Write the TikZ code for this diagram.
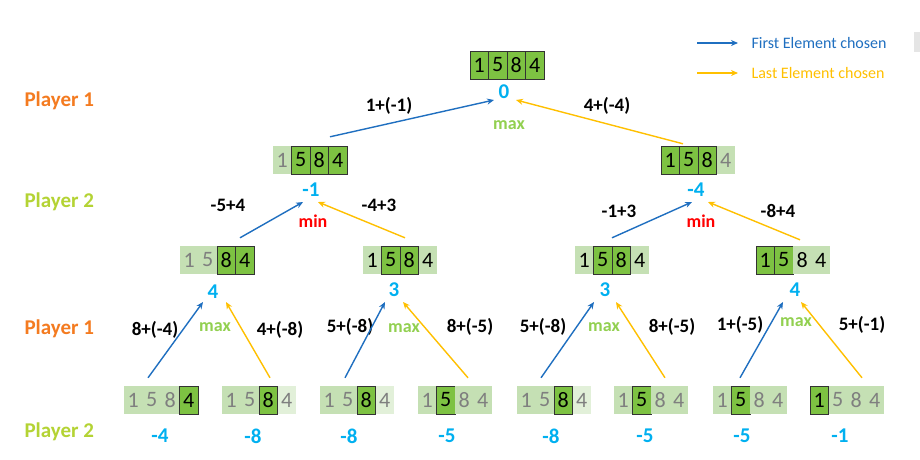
\documentclass[tikz,border=0pt]{standalone}
\usepackage{fontspec}
\setmainfont{Carlito}
\usetikzlibrary{arrows.meta}
\definecolor{dkg}{HTML}{7DC242}
\definecolor{ltg}{HTML}{C5E0B4}
\definecolor{xlg}{HTML}{E2F0D9}
\definecolor{gtx}{HTML}{7F7F7F}
\definecolor{blu}{HTML}{1F6FC0}
\definecolor{yel}{HTML}{FFC000}
\definecolor{cyn}{HTML}{00B0F0}
\definecolor{grn}{HTML}{92D050}
\definecolor{org}{HTML}{F47B20}
\definecolor{lim}{HTML}{B4D334}
\tikzset{
 cell/.style={inner sep=0, minimum width=18.5pt, minimum height=28pt, font=\fontsize{22}{24}\selectfont},
 cD/.style={cell, fill=dkg, draw=black!80, line width=0.8pt},
 cL/.style={cell, fill=ltg},
 cG/.style={cell, fill=ltg, text=gtx},
 cW/.style={cell, fill=xlg, text=gtx},
 val/.style={font=\bfseries\fontsize{21}{24}\selectfont, text=cyn},
 mx/.style={font=\bfseries\fontsize{18}{22}\selectfont, text=grn},
 mn/.style={font=\bfseries\fontsize{18}{22}\selectfont, text=red},
 elab/.style={font=\bfseries\fontsize{19}{22}\selectfont},
 play/.style={font=\bfseries\fontsize{21}{24}\selectfont, anchor=west},
 lgd/.style={font=\fontsize{16}{19}\selectfont, anchor=west},
 arB/.style={draw=blu, line width=1.4pt, -{Stealth[length=7pt,width=6pt]}},
 arY/.style={draw=yel, line width=1.4pt, -{Stealth[length=7pt,width=6pt]}},
}
\newcommand\cellarray[4]{%
 \node[inner sep=0, minimum width=74pt, minimum height=28pt] (#1) at ({#2+37},{#3+14}) {};
 \foreach \s/\d [count=\i from 0] in {#4}{
  \node[\s] (#1-\i) at ({#2+\i*18.5+9.25},{#3+14}) {\d};
 }
}
\begin{document}
\begin{tikzpicture}[x=1pt,y=-1pt]
\fill[white] (0,0) rectangle (920,459);
\useasboundingbox (0,0) rectangle (920,459);
\fill[black!10] (914,32) rectangle (920,52);
% player labels
\node[play, text=org] (p1a) at (21,101) {Player 1};
\node[play, text=lim] (p2a) at (21,202) {Player 2};
\node[play, text=org] (p1b) at (21,329) {Player 1};
\node[play, text=lim] (p2b) at (21,432) {Player 2};
% legend
\node[lgd, text=blu] (lg1) at (748,43) {First Element chosen};
\node[lgd, text=yel] (lg2) at (748,73) {Last Element chosen};
\coordinate (lg1s) at (697,43);
\coordinate (lg2s) at (697,73);
\draw[arB] (lg1s) -- ([xshift=-10]lg1.west);
\draw[arY] (lg2s) -- ([xshift=-10]lg2.west);
% arrays
\cellarray{r}{470}{51}{cD/1,cD/5,cD/8,cD/4}
\cellarray{aL}{273}{146}{cG/1,cD/5,cD/8,cD/4}
\cellarray{aR}{661}{146}{cD/1,cD/5,cD/8,cG/4}
\cellarray{b1}{180}{246}{cG/1,cG/5,cD/8,cD/4}
\cellarray{b2}{363}{246}{cL/1,cD/5,cD/8,cL/4}
\cellarray{b3}{575}{246}{cL/1,cD/5,cD/8,cL/4}
\cellarray{b4}{756}{246}{cD/1,cD/5,cL/8,cL/4}
\cellarray{c1}{124}{386}{cG/1,cG/5,cG/8,cD/4}
\cellarray{c2}{222}{386}{cG/1,cG/5,cD/8,cW/4}
\cellarray{c3}{320}{386}{cG/1,cG/5,cD/8,cW/4}
\cellarray{c4}{418}{386}{cG/1,cD/5,cG/8,cG/4}
\cellarray{c5}{517}{386}{cG/1,cG/5,cD/8,cW/4}
\cellarray{c6}{614}{386}{cG/1,cD/5,cG/8,cG/4}
\cellarray{c7}{713}{386}{cG/1,cD/5,cG/8,cG/4}
\cellarray{c8}{810}{386}{cD/1,cG/5,cG/8,cG/4}
% values
\node[val] (v0) at (504,92) {0};
\node[val] (vL) at (311,190) {-1};
\node[val] (vR) at (696,190) {-4};
\node[val] (w1) at (213,292) {4};
\node[val] (w2) at (394,290) {3};
\node[val] (w3) at (605,290) {3};
\node[val] (w4) at (795,290) {4};
\node[val] (u1) at (160,436) {-4};
\node[val] (u2) at (253,436) {-8};
\node[val] (u3) at (349,436) {-8};
\node[val] (u4) at (447,436) {-5};
\node[val] (u5) at (551,436) {-8};
\node[val] (u6) at (645,436) {-5};
\node[val] (u7) at (742,436) {-5};
\node[val] (u8) at (840,436) {-1};
% max / min
\node[mx] (m0) at (509,125) {max};
\node[mn] (mL) at (313,221) {min};
\node[mn] (mR) at (701,221) {min};
\node[mx] (m1) at (215,327) {max};
\node[mx] (m2) at (404,328) {max};
\node[mx] (m3) at (604,327) {max};
\node[mx] (m4) at (796,322) {max};
% edge labels
\node[elab] (e1) at (389,106) {1+(-1)};
\node[elab] (e2) at (607,106) {4+(-4)};
\node[elab] (e3) at (228,205) {-5+4};
\node[elab] (e4) at (379,205) {-4+3};
\node[elab] (e5) at (619,211) {-1+3};
\node[elab] (e6) at (778,211) {-8+4};
\node[elab] (e7) at (155,330) {8+(-4)};
\node[elab] (e8) at (280,330) {4+(-8)};
\node[elab] (e9) at (350,327) {5+(-8)};
\node[elab] (e10) at (470,327) {8+(-5)};
\node[elab] (e11) at (543,327) {5+(-8)};
\node[elab] (e12) at (672,327) {8+(-5)};
\node[elab] (e13) at (740,325) {1+(-5)};
\node[elab] (e14) at (862,325) {5+(-1)};
% arrows
\draw[arB] ([shift={(20,-9)}]aL.north) -- ([shift={(-10,8)}]v0.center);
\draw[arY] ([shift={(-15,-2)}]aR.north) -- ([shift={(12,8)}]v0.center);
\draw[arB] ([shift={(23,-8)}]b1.north) -- ([shift={(-8,12)}]vL.center);
\draw[arY] ([shift={(5,-8)}]b2.north) -- ([shift={(7,12)}]vL.center);
\draw[arB] ([shift={(0,-8)}]b3.north) -- ([shift={(-4,12)}]vR.center);
\draw[arY] ([shift={(7,-6)}]b4.north) -- ([shift={(12,12)}]vR.center);
\draw[arB] ([shift={(-13,-8)}]c1.north) -- ([shift={(-10,10)}]w1.center);
\draw[arY] ([shift={(11,-8)}]c2.north) -- ([shift={(13,10)}]w1.center);
\draw[arB] ([shift={(-12,-8)}]c3.north) -- ([shift={(-9,12)}]w2.center);
\draw[arY] ([shift={(13,-8)}]c4.north) -- ([shift={(9,12)}]w2.center);
\draw[arB] ([shift={(-13,-8)}]c5.north) -- ([shift={(-11,12)}]w3.center);
\draw[arY] ([shift={(14,-8)}]c6.north) -- ([shift={(11,12)}]w3.center);
\draw[arB] ([shift={(-10,-8)}]c7.north) -- ([shift={(-12,12)}]w4.center);
\draw[arY] ([shift={(15,-8)}]c8.north) -- ([shift={(6,12)}]w4.center);
\end{tikzpicture}
\end{document}
